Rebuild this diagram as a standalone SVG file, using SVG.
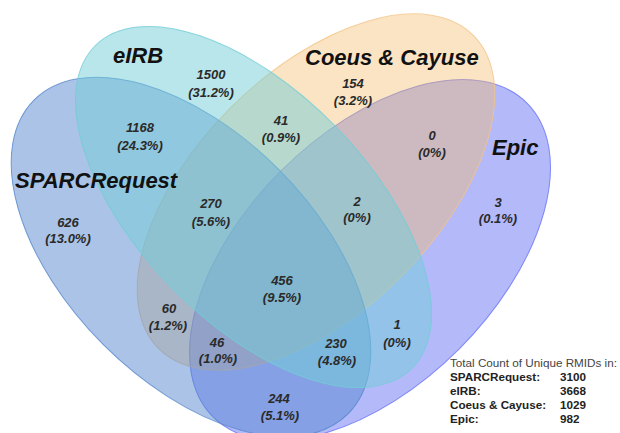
<svg xmlns="http://www.w3.org/2000/svg" width="620" height="433" viewBox="0 0 620 433">
<style>
.set{stroke-width:1;stroke-opacity:0.8}
.name{font-family:"Liberation Sans",Arial,sans-serif;font-weight:bold;font-style:italic;font-size:22px;fill:#111}
.num{font-family:"Liberation Sans",Arial,sans-serif;font-weight:bold;font-style:italic;font-size:13px;fill:#2a2a2a;text-anchor:middle}
.lg{font-family:"Liberation Sans",Arial,sans-serif;font-size:11.7px;fill:#444}
.lgb{font-family:"Liberation Sans",Arial,sans-serif;font-size:11.7px;font-weight:bold;fill:#222}
</style>
<rect width="620" height="433" fill="#ffffff"/>
<g id="sets">
<g id="epic"><ellipse class="set" cx="370" cy="260" rx="222" ry="126" transform="rotate(-45 370 260)" fill="#6973f5" fill-opacity="0.5" stroke="#6973f5"/></g>
<g id="coeus"><ellipse class="set" cx="316" cy="192" rx="222" ry="120" transform="rotate(-44.8 316 192)" fill="#f2bb69" fill-opacity="0.4" stroke="#f2c487"/></g>
<g id="sparc"><ellipse class="set" cx="191" cy="257" rx="222" ry="124" transform="rotate(45 191 257)" fill="#5587cd" fill-opacity="0.5" stroke="#5587cd"/></g>
<g id="eirb"><ellipse class="set" cx="253.5" cy="207" rx="226" ry="115" transform="rotate(45.7 253.5 207)" fill="#73cdd7" fill-opacity="0.5" stroke="#73cdd7"/></g>
</g>
<g id="names">
<text class="name" x="113" y="63">eIRB</text>
<text class="name" x="15" y="188">SPARCRequest</text>
<text class="name" x="305" y="65">Coeus &amp; Cayuse</text>
<text class="name" x="492" y="155">Epic</text>
</g>
<g id="counts">
<text class="num" x="211" y="79">1500</text><text class="num" x="211" y="97">(31.2%)</text>
<text class="num" x="140" y="132">1168</text><text class="num" x="140" y="150">(24.3%)</text>
<text class="num" x="281" y="125">41</text><text class="num" x="281" y="142">(0.9%)</text>
<text class="num" x="353" y="88">154</text><text class="num" x="353" y="105">(3.2%)</text>
<text class="num" x="432" y="140">0</text><text class="num" x="432" y="157">(0%)</text>
<text class="num" x="498" y="207">3</text><text class="num" x="498" y="223">(0.1%)</text>
<text class="num" x="211" y="208">270</text><text class="num" x="211" y="226">(5.6%)</text>
<text class="num" x="357" y="206">2</text><text class="num" x="357" y="222">(0%)</text>
<text class="num" x="68" y="227">626</text><text class="num" x="68" y="243">(13.0%)</text>
<text class="num" x="282" y="285">456</text><text class="num" x="282" y="302">(9.5%)</text>
<text class="num" x="169" y="313">60</text><text class="num" x="168" y="330">(1.2%)</text>
<text class="num" x="217" y="347">46</text><text class="num" x="218" y="363">(1.0%)</text>
<text class="num" x="279" y="403">244</text><text class="num" x="280" y="420">(5.1%)</text>
<text class="num" x="336" y="348">230</text><text class="num" x="337" y="365">(4.8%)</text>
<text class="num" x="397" y="329">1</text><text class="num" x="397" y="347">(0%)</text>
</g>
<g id="legend">
<text class="lg" x="450" y="367">Total Count of Unique RMIDs in:</text>
<text class="lgb" x="450" y="381">SPARCRequest:</text><text class="lgb" x="560" y="381">3100</text>
<text class="lgb" x="450" y="395">eIRB:</text><text class="lgb" x="560" y="395">3668</text>
<text class="lgb" x="450" y="409">Coeus &amp; Cayuse:</text><text class="lgb" x="560" y="409">1029</text>
<text class="lgb" x="450" y="423">Epic:</text><text class="lgb" x="560" y="423">982</text>
</g>
</svg>
